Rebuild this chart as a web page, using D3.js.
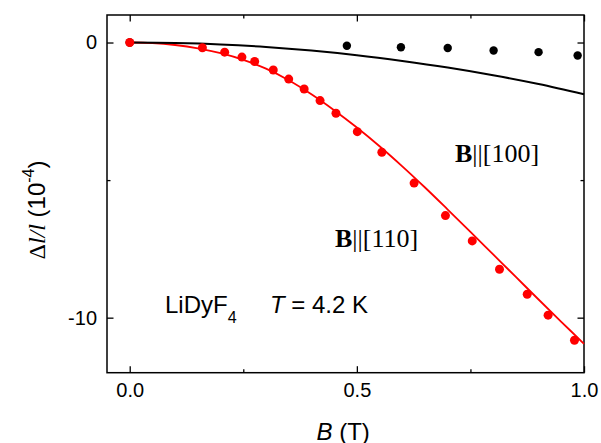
<!DOCTYPE html>
<html><head><meta charset="utf-8">
<script src="https://cdn.jsdelivr.net/npm/d3@7"></script>
<style>body{margin:0;background:#fff}svg{display:block}</style>
</head><body>
<script>
// Data
const b100B = [0, 0.478, 0.597, 0.700, 0.801, 0.900, 0.986];
const b100V = [0, -0.12, -0.17, -0.20, -0.29, -0.35, -0.47];
const b110B = [0, 0.160, 0.209, 0.247, 0.275, 0.316, 0.350, 0.384, 0.419, 0.454, 0.501, 0.555, 0.626, 0.695, 0.754, 0.814, 0.875, 0.921, 0.979];
const b110V = [0, -0.19, -0.35, -0.53, -0.69, -1.00, -1.33, -1.69, -2.11, -2.57, -3.24, -3.99, -5.11, -6.29, -7.21, -8.24, -9.15, -9.91, -10.82];
const fit100B = [0, 0.1, 0.2, 0.3, 0.4, 0.5, 0.6, 0.7, 0.8, 0.9, 1.0];
const fit100V = [0, -0.02, -0.07, -0.16, -0.29, -0.46, -0.67, -0.91, -1.19, -1.51, -1.88];
const fit110B = [0, 0.05, 0.1, 0.15, 0.2, 0.25, 0.3, 0.35, 0.4, 0.45, 0.5, 0.55, 0.6, 0.65, 0.7, 0.75, 0.8, 0.85, 0.9, 0.95, 1.0];
const fit110V = [0, -0.02, -0.09, -0.21, -0.39, -0.63, -0.95, -1.37, -1.88, -2.46, -3.09, -3.77, -4.50, -5.27, -6.07, -6.88, -7.70, -8.52, -9.34, -10.15, -10.95];
const xMajor = [0, 0.5, 1.0];
const xMinor = [0.25, 0.75];
const yMajor = [0, -10];
const yMinor = [-5];

const W = 601, H = 443;
const L = 107, R = 584, T = 15, Bt = 372.7;
const svg = d3.select("body").append("svg").attr("width", W).attr("height", H);
const x = d3.scaleLinear().domain([-0.05, 1.0]).range([L, R]);
const y = d3.scaleLinear().domain([1, -12]).range([T, Bt]);
const sans = "Liberation Sans, Arial, sans-serif";
const serif = "Liberation Serif, Times New Roman, serif";

// axes (ticks inward)
function ax(gen, tr, vals, size, labels) {
  const g = svg.append("g").attr("transform", tr)
    .call(gen.tickValues(vals).tickSizeInner(-size).tickSizeOuter(0)
      .tickFormat(labels ? labels : () => "").tickPadding(labels ? 10 : 0));
  g.select(".domain").remove();
  g.selectAll(".tick line").attr("stroke", "#000").attr("stroke-width", 1.3);
  g.selectAll(".tick text").attr("font-family", sans).attr("font-size", 20).attr("fill", "#000");
  return g;
}
ax(d3.axisBottom(x), `translate(0,${Bt})`, xMajor, 6.5, d => d.toFixed(1));
ax(d3.axisBottom(x), `translate(0,${Bt})`, xMinor, 3.5, null);
ax(d3.axisTop(x), `translate(0,${T})`, xMajor, 6.5, null);
ax(d3.axisTop(x), `translate(0,${T})`, xMinor, 3.5, null);
ax(d3.axisLeft(y), `translate(${L},0)`, yMajor, 6.5, d => String(d));
ax(d3.axisLeft(y), `translate(${L},0)`, yMinor, 3.5, null);
ax(d3.axisRight(y), `translate(${R},0)`, yMajor, 6.5, null);
ax(d3.axisRight(y), `translate(${R},0)`, yMinor, 3.5, null);

svg.append("rect").attr("x", L).attr("y", T).attr("width", R - L).attr("height", Bt - T)
  .attr("fill", "none").attr("stroke", "#000").attr("stroke-width", 1.5);

const line = d3.line().x(d => x(d[0])).y(d => y(d[1])).curve(d3.curveCatmullRom);
svg.append("path").datum(fit110B.map((b, i) => [b, fit110V[i]]))
  .attr("d", line).attr("fill", "none").attr("stroke", "#ff0000").attr("stroke-width", 1.8);
svg.append("path").datum(fit100B.map((b, i) => [b, fit100V[i]]))
  .attr("d", line).attr("fill", "none").attr("stroke", "#000").attr("stroke-width", 2);

svg.append("g").selectAll("circle").data(b100B.map((b, i) => [b, b100V[i]])).join("circle")
  .attr("cx", d => x(d[0])).attr("cy", d => y(d[1])).attr("r", 4.2).attr("fill", "#000");
svg.append("g").selectAll("circle").data(b110B.map((b, i) => [b, b110V[i]])).join("circle")
  .attr("cx", d => x(d[0])).attr("cy", d => y(d[1])).attr("r", 4.5).attr("fill", "#ff0000");

// annotations
function bLabel(px, py, txt) {
  const t = svg.append("text").attr("x", px).attr("y", py).attr("font-family", serif).attr("font-size", 26);
  t.append("tspan").attr("font-weight", "bold").text("B");
  t.append("tspan").text("||" + txt);
}
bLabel(455, 161.5, "[100]");
bLabel(335, 246.5, "[110]");

const t1 = svg.append("text").attr("x", 165).attr("y", 313).attr("font-family", sans).attr("font-size", 24);
t1.append("tspan").text("LiDyF");
t1.append("tspan").attr("font-size", 16).attr("dy", 10).text("4");
const t2 = svg.append("text").attr("x", 270).attr("y", 313).attr("font-family", sans).attr("font-size", 24);
t2.append("tspan").attr("font-style", "italic").text("T");
t2.append("tspan").text(" = 4.2 K");

const xl = svg.append("text").attr("x", 316.5).attr("y", 439.5).attr("font-family", sans).attr("font-size", 24);
xl.append("tspan").attr("font-style", "italic").text("B");
xl.append("tspan").text(" (T)");

const yl = svg.append("text").attr("transform", "translate(45,210) rotate(-90)")
  .attr("text-anchor", "middle").attr("font-size", 24);
yl.append("tspan").attr("font-family", serif).text("Δ");
yl.append("tspan").attr("font-family", serif).attr("font-style", "italic").text("l/l");
yl.append("tspan").attr("font-family", sans).text(" (10");
yl.append("tspan").attr("font-family", sans).attr("font-size", 16).attr("dy", -11).text("-4");
yl.append("tspan").attr("font-family", sans).attr("dy", 11).text(")");
</script>
</body></html>
